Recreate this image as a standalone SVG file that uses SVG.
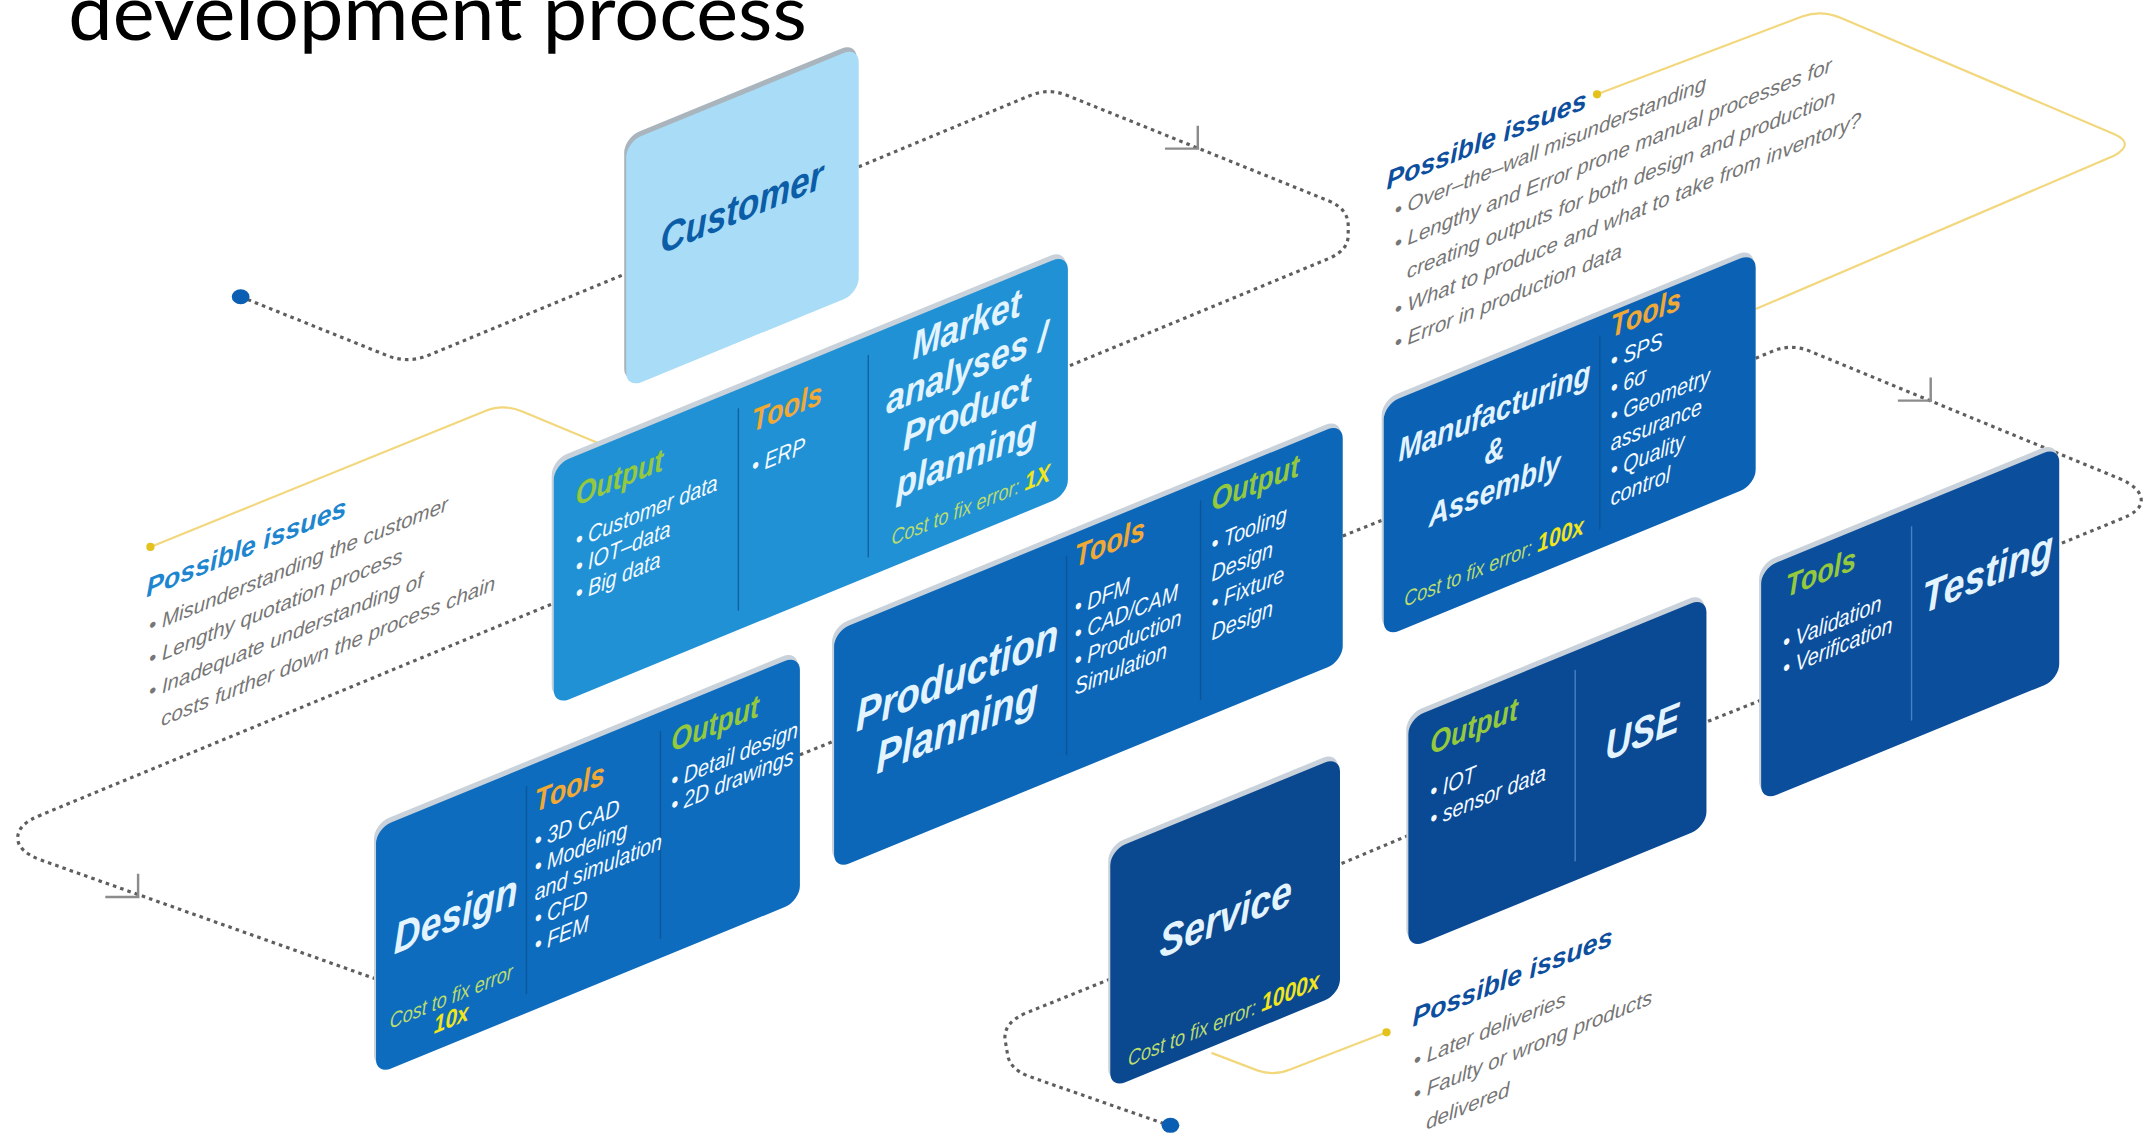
<svg xmlns="http://www.w3.org/2000/svg" width="2144" height="1139" viewBox="0 0 2144 1139">
<style>
  .t { font-family: 'Liberation Sans', Arial, sans-serif; font-style: italic; }
  .title { font-family: Lato, 'Liberation Sans', sans-serif; font-size: 56px; fill: #000; }
  .big { font-weight: bold; fill: #e3f4ff; }
  .out { font-weight: bold; fill: #95c93d; font-size: 23px; }
  .tool { font-weight: bold; fill: #f1a935; font-size: 23px; }
  .bl { fill: #f5faff; font-size: 17px; }
  .cost { fill: #bcdc70; font-size: 15.5px; }
  .mult { fill: #f1e51c; font-weight: bold; font-size: 18px; }
  .pi { font-weight: bold; font-size: 19.5px; }
  .iss { fill: #767676; font-size: 15px; }
  .edge { fill: #c9d2da; }
  .divd { stroke: #0b4d8c; stroke-width: 1; opacity: 0.7; fill: none; }
  .divl { stroke: #5b8fcb; stroke-width: 1; opacity: 0.8; fill: none; }
  .dots { fill: none; stroke: #5e5e5e; stroke-width: 2.3; stroke-dasharray: 2.6 3; }
  .tick { fill: none; stroke: #8c8c8c; stroke-width: 1.8; }
  .ylw { fill: none; stroke: #f2d77c; stroke-width: 1.6; }
  .ydot { fill: #e3c21c; }
  .bdot { fill: #0b5fb3; }
</style>
<rect width="2144" height="1139" fill="#ffffff"/>
<g transform="scale(1.36735)">
  <text class="title" x="50" y="29" textLength="540" lengthAdjust="spacingAndGlyphs">development process</text>

  <!-- process flow: dotted connectors, direction ticks and issue call-out lines -->
  <g id="connectors">
    <path class="dots" d="M176,217 L283,260 Q298,266 313,260 L458,200"/>
    <path class="dots" d="M628,122 L753,70 Q767,64 781,70 L972,147 Q986,153 986,165 L986,172 Q986,183 972,189 L781,268"/>
    <path class="dots" d="M403,442 L30,596 Q12,603 13,614 Q14,623 30,629 L275,716"/>
    <path class="dots" d="M585,552 L610,542"/>
    <path class="dots" d="M982,392 L1012,380"/>
    <path class="dots" d="M1284,262 L1296,257 Q1310,251 1324,257 L1550,350 Q1566,357 1566,366 Q1566,374 1550,380 L1506,398"/>
    <path class="dots" d="M1288,512 L1248,528"/>
    <path class="dots" d="M1030,611 L980,632"/>
    <path class="dots" d="M812,716 L750,741 Q734,748 735,760 L737,772 Q739,782 752,787 L852,822"/>
    <path class="tick" d="M852,108.7 H877 M876,92 V109"/>
    <path class="tick" d="M1388,293 H1413 M1412,276 V293"/>
    <path class="tick" d="M77,656 H102 M101,639 V656"/>
    <ellipse class="bdot" cx="176" cy="217" rx="6.5" ry="5.5"/>
    <ellipse class="bdot" cx="856" cy="823" rx="6.5" ry="5.5"/>
    <path class="ylw" d="M110,400 L354,301 Q368,295 382,301 L440,325"/>
    <path class="ylw" d="M1168,69 L1318,12 Q1332,7 1346,13 L1546,98 Q1562,105 1546,114 L1284,226"/>
    <path class="ylw" d="M1014,755 L944,782 Q932,787 920,783 L886,770"/>
    <circle class="ydot" cx="110" cy="400" r="3"/>
    <circle class="ydot" cx="1168" cy="69" r="3"/>
    <circle class="ydot" cx="1014" cy="755" r="3"/>
  </g>

  <!-- issue notes -->
  <g id="issues-customer">
    <text class="t pi" fill="#1e86cf" transform="translate(107,437) skewY(-22.3)">Possible issues</text>
    <text class="t iss" transform="translate(109,463) skewY(-22.3)"><tspan x="0">• Misunderstanding the customer</tspan><tspan x="0" dy="24">• Lengthy quotation process</tspan><tspan x="0" dy="24">• Inadequate understanding of</tspan><tspan x="9" dy="24">costs further down the process chain</tspan></text>
  </g>
  <g id="issues-production">
    <text class="t pi" fill="#0d4f9e" transform="translate(1014,139) skewY(-22.3)">Possible issues</text>
    <text class="t iss" transform="translate(1020,159) skewY(-22.3)"><tspan x="0">• Over–the–wall misunderstanding</tspan><tspan x="0" dy="24.3">• Lengthy and Error prone manual processes for</tspan><tspan x="9" dy="24.3">creating outputs for both design and production</tspan><tspan x="0" dy="24.3">• What to produce and what to take from inventory?</tspan><tspan x="0" dy="24.3">• Error in production data</tspan></text>
  </g>
  <g id="issues-service">
    <text class="t pi" fill="#0d4f9e" transform="translate(1033,751) skewY(-22.3)">Possible issues</text>
    <text class="t iss" transform="translate(1034,781) skewY(-22.3)"><tspan x="0">• Later deliveries</tspan><tspan x="0" dy="24.5">• Faulty or wrong products</tspan><tspan x="9" dy="24.5">delivered</tspan></text>
  </g>

  <!-- process stages; card text is condensed with scale(0.85,1) -->
  <g id="node-customer">
    <g transform="translate(458,104) skewY(-22.3)">
      <rect x="-1.5" y="-4" width="170" height="180" rx="11" fill="#a9b4bd"/>
      <rect width="170" height="180" rx="11" fill="#a9dcf6"/>
    </g>
    <text class="t" font-weight="bold" font-size="30" fill="#0b5da8" transform="translate(483,186) skewY(-22.3) scale(0.85,1)">Customer</text>
  </g>

  <g id="node-market">
    <g transform="translate(405,340) skewY(-22.3)">
      <rect class="edge" x="-1.5" y="-4" width="376" height="176" rx="11"/>
      <rect width="376" height="176" rx="11" fill="#2191d5"/>
      <path class="divd" d="M135,14 V162 M230,14 V162"/>
    </g>
    <text class="t out" transform="translate(421,370) skewY(-22.3) scale(0.85,1)">Output</text>
    <text class="t bl" transform="translate(421,401) skewY(-22.3) scale(0.85,1)"><tspan x="0">• Customer data</tspan><tspan x="0" dy="19.5">• IOT–data</tspan><tspan x="0" dy="19.5">• Big data</tspan></text>
    <text class="t tool" transform="translate(550,316) skewY(-22.3) scale(0.85,1)">Tools</text>
    <text class="t bl" transform="translate(550,347) skewY(-22.3) scale(0.85,1)">• ERP</text>
    <text class="t big" font-size="29" text-anchor="middle" transform="translate(707,247) skewY(-22.3) scale(0.85,1)"><tspan x="0">Market</tspan><tspan x="0" dy="32">analyses /</tspan><tspan x="0" dy="32">Product</tspan><tspan x="0" dy="33">planning</tspan></text>
    <text class="t cost" transform="translate(652,399) skewY(-22.3) scale(0.85,1)">Cost to fix error: <tspan class="mult">1X</tspan></text>
  </g>

  <g id="node-design">
    <g transform="translate(275,606) skewY(-22.3)">
      <rect class="edge" x="-1.5" y="-4" width="310" height="180" rx="11"/>
      <rect width="310" height="180" rx="11" fill="#0e6cbe"/>
      <path class="divd" d="M110,14 V166 M208,14 V166"/>
    </g>
    <text class="t big" font-size="32" transform="translate(288,698) skewY(-22.3) scale(0.85,1)">Design</text>
    <text class="t cost" text-anchor="middle" transform="translate(330,734) skewY(-22.3) scale(0.85,1)"><tspan x="0">Cost to fix error</tspan><tspan class="mult" x="0" dy="17">10x</tspan></text>
    <text class="t tool" transform="translate(391,594) skewY(-22.3) scale(0.85,1)">Tools</text>
    <text class="t bl" font-size="16.5" transform="translate(391,621) skewY(-22.3) scale(0.85,1)"><tspan x="0">• 3D CAD</tspan><tspan x="0" dy="19">• Modeling</tspan><tspan x="0" dy="19">and simulation</tspan><tspan x="0" dy="19">• CFD</tspan><tspan x="0" dy="19">• FEM</tspan></text>
    <text class="t out" transform="translate(491,550) skewY(-22.3) scale(0.85,1)">Output</text>
    <text class="t bl" font-size="16" transform="translate(491,577) skewY(-22.3) scale(0.85,1)"><tspan x="0">• Detail design</tspan><tspan x="0" dy="18">• 2D drawings</tspan></text>
  </g>

  <g id="node-production-planning">
    <g transform="translate(610,462) skewY(-22.3)">
      <rect class="edge" x="-1.5" y="-4" width="372" height="174" rx="11"/>
      <rect width="372" height="174" rx="11" fill="#0c67b9"/>
      <path class="divd" d="M170,14 V160 M268,14 V160"/>
    </g>
    <text class="t big" font-size="33" text-anchor="middle" transform="translate(700,505) skewY(-22.3) scale(0.85,1)"><tspan x="0">Production</tspan><tspan x="0" dy="37">Planning</tspan></text>
    <text class="t tool" transform="translate(786,415) skewY(-22.3) scale(0.85,1)">Tools</text>
    <text class="t bl" transform="translate(786,450) skewY(-22.3) scale(0.85,1)"><tspan x="0">• DFM</tspan><tspan x="0" dy="19.5">• CAD/CAM</tspan><tspan x="0" dy="19.5">• Production</tspan><tspan x="0" dy="19.5">Simulation</tspan></text>
    <text class="t out" transform="translate(886,374) skewY(-22.3) scale(0.85,1)">Output</text>
    <text class="t bl" transform="translate(886,404) skewY(-22.3) scale(0.85,1)"><tspan x="0">• Tooling</tspan><tspan x="0" dy="21.5">Design</tspan><tspan x="0" dy="21.5">• Fixture</tspan><tspan x="0" dy="21.5">Design</tspan></text>
  </g>

  <g id="node-manufacturing">
    <g transform="translate(1012,296) skewY(-22.3)">
      <rect class="edge" x="-1.5" y="-4" width="272" height="170" rx="11"/>
      <rect width="272" height="170" rx="11" fill="#0b62b4"/>
      <path class="divd" d="M158,14 V156"/>
    </g>
    <text class="t big" font-size="24" text-anchor="middle" transform="translate(1093,309) skewY(-22.3) scale(0.85,1)"><tspan x="0">Manufacturing</tspan><tspan x="0" dy="28.5">&amp;</tspan><tspan x="0" dy="28.5">Assembly</tspan></text>
    <text class="t cost" transform="translate(1027,444) skewY(-22.3) scale(0.85,1)">Cost to fix error: <tspan class="mult">100x</tspan></text>
    <text class="t tool" transform="translate(1178,247) skewY(-22.3) scale(0.85,1)">Tools</text>
    <text class="t bl" transform="translate(1178,270) skewY(-22.3) scale(0.85,1)"><tspan x="0">• SPS</tspan><tspan x="0" dy="20">• 6σ</tspan><tspan x="0" dy="20">• Geometry</tspan><tspan x="0" dy="20">assurance</tspan><tspan x="0" dy="20">• Quality</tspan><tspan x="0" dy="20">control</tspan></text>
  </g>

  <g id="node-testing">
    <g transform="translate(1288,416) skewY(-22.3)">
      <rect class="edge" x="-1.5" y="-4" width="218" height="170" rx="11"/>
      <rect width="218" height="170" rx="11" fill="#0b4e9b"/>
      <path class="divl" d="M110,14 V156"/>
    </g>
    <text class="t out" transform="translate(1306,437) skewY(-22.3) scale(0.85,1)">Tools</text>
    <text class="t bl" transform="translate(1304,476) skewY(-22.3) scale(0.85,1)"><tspan x="0">• Validation</tspan><tspan x="0" dy="19">• Verification</tspan></text>
    <text class="t big" font-size="32" transform="translate(1406,449) skewY(-22.3) scale(0.85,1)">Testing</text>
  </g>

  <g id="node-use">
    <g transform="translate(1030,526) skewY(-22.3)">
      <rect class="edge" x="-1.5" y="-4" width="218" height="168" rx="11"/>
      <rect width="218" height="168" rx="11" fill="#0a4a95"/>
      <path class="divl" d="M122,14 V154"/>
    </g>
    <text class="t out" transform="translate(1046,552) skewY(-22.3) scale(0.85,1)">Output</text>
    <text class="t bl" transform="translate(1046,585) skewY(-22.3) scale(0.85,1)"><tspan x="0">• IOT</tspan><tspan x="0" dy="20">• sensor data</tspan></text>
    <text class="t big" font-size="31" transform="translate(1174,557) skewY(-22.3) scale(0.85,1)">USE</text>
  </g>

  <g id="node-service">
    <g transform="translate(812,622) skewY(-22.3)">
      <rect class="edge" x="-1.5" y="-4" width="168" height="174" rx="11"/>
      <rect width="168" height="174" rx="11" fill="#0a4890"/>
    </g>
    <text class="t big" font-size="32" transform="translate(848,701) skewY(-22.3) scale(0.85,1)">Service</text>
    <text class="t cost" transform="translate(825,780) skewY(-22.3) scale(0.85,1)">Cost to fix error: <tspan class="mult">1000x</tspan></text>
  </g>
</g>
</svg>
